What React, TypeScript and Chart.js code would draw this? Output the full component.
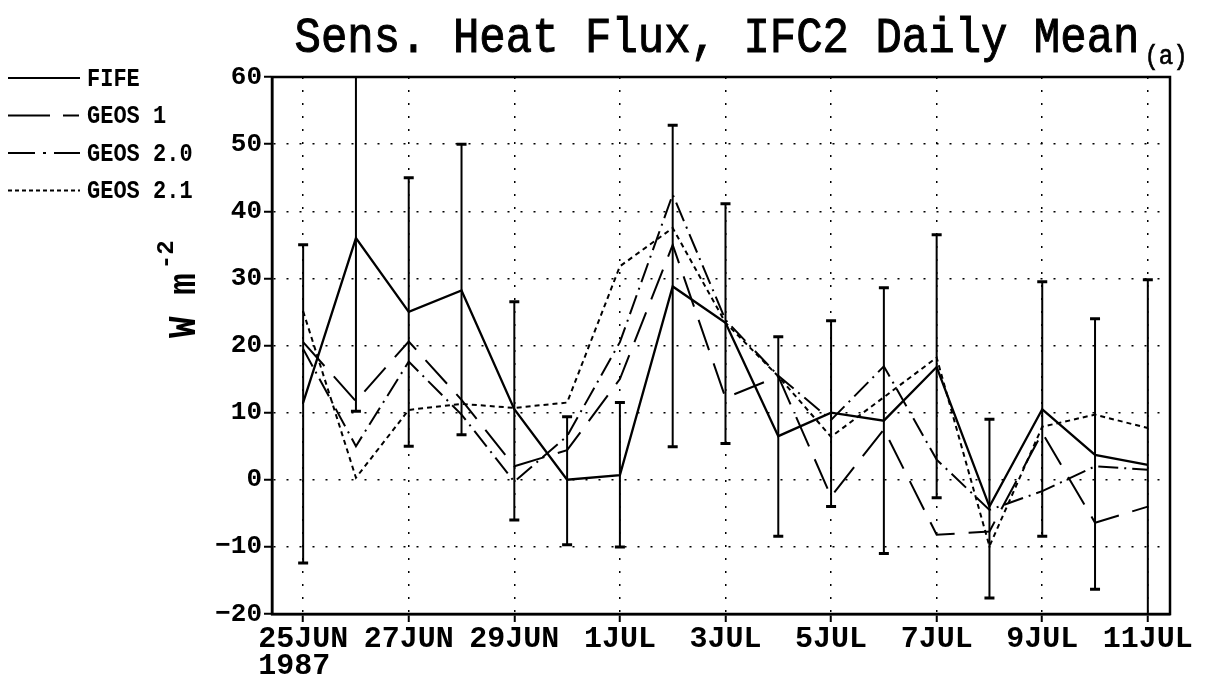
import { useEffect, useRef } from 'react';
import { Chart, registerables } from 'chart.js';

Chart.register(...registerables);

// ---- text ----
const titleText = 'Sens. Heat Flux, IFC2 Daily Mean';
const panelTag = '(a)';
const yTitleMain = 'W m';
const yTitleSup = '-2';
const yearLabel = '1987';
const seriesNames = ['FIFE', 'GEOS 1', 'GEOS 2.0', 'GEOS 2.1'];

// ---- categories ----
const dates = [
  '25JUN', '26JUN', '27JUN', '28JUN', '29JUN', '30JUN', '1JUL', '2JUL', '3JUL',
  '4JUL', '5JUL', '6JUL', '7JUL', '8JUL', '9JUL', '10JUL', '11JUL',
];
const tickDates = ['25JUN', '27JUN', '29JUN', '1JUL', '3JUL', '5JUL', '7JUL', '9JUL', '11JUL'];

// ---- series (W m-2) ----
const fife = [11.5, 36, 25, 28.2, 10.5, 0, 0.7, 28.8, 23.4, 6.5, 10, 8.8, 16.8, -4, 10.5, 3.7, 2.2];
const fifeHigh = [35, 62, 45, 50, 26.5, 9.4, 11.5, 52.8, 41.1, 21.3, 23.7, 28.6, 36.5, 9, 29.5, 24, 29.8];
const fifeLow = [-12.4, 10.2, 5, 6.7, -6, -9.7, -10, 4.9, 5.4, -8.4, -4, -11, -2.7, -17.6, -8.4, -16.3, -25.4];
const geos1 = [20.5, 11.7, 20.6, 11.9, 2.0, 4.4, 15, 35, 12.2, 15.4, -2.5, 7.5, -8.2, -7.7, 7, -6.4, -4];
const geos20 = [19.5, 5, 17.6, 9.7, -0.3, 6.5, 20.5, 42.5, 23.8, 15.5, 8.9, 16.9, 3, -4.5, -1.7, 2, 1.5];
const geos21 = [25.1, 0.3, 10.4, 11.3, 10.7, 11.5, 31.8, 37.5, 23.4, 15.4, 6.4, 12.3, 18.2, -9.9, 7.9, 9.7, 7.7];

// ---- axis ----
const yMin = -20;
const yMax = 60;
const yStep = 10;

const MONO = '"Liberation Mono", "DejaVu Sans Mono", monospace';

const dashes = {
  fife: [] as number[],
  geos1: [32, 14],
  geos20: [20, 6, 2, 6],
  geos21: [5, 4],
};
const legendDashes = [[], [42, 13, 16, 100], [27, 8, 3, 8, 40], [4, 3]];

const toPts = (arr: number[]) => arr.map((v, i) => ({ x: i, y: v }));

const decor = {
  id: 'decor',
  afterDatasetsDraw(chart: any) {
    const { ctx, chartArea: ca, scales } = chart;
    const x = scales.x;
    const y = scales.y;
    ctx.save();
    ctx.beginPath();
    ctx.rect(ca.left, ca.top, ca.right - ca.left, ca.bottom - ca.top);
    ctx.clip();
    ctx.strokeStyle = '#000';
    ctx.setLineDash([]);
    fife.forEach((_, i) => {
      const px = x.getPixelForValue(i);
      const top = y.getPixelForValue(fifeHigh[i]);
      const bot = y.getPixelForValue(fifeLow[i]);
      ctx.lineWidth = 2;
      ctx.beginPath();
      ctx.moveTo(px, top);
      ctx.lineTo(px, bot);
      ctx.stroke();
      ctx.lineWidth = 3;
      ctx.beginPath();
      ctx.moveTo(px - 5, top);
      ctx.lineTo(px + 5, top);
      ctx.moveTo(px - 5, bot);
      ctx.lineTo(px + 5, bot);
      ctx.stroke();
    });
    ctx.restore();
  },
  afterDraw(chart: any) {
    const { ctx, chartArea: ca } = chart;
    ctx.save();
    // frame
    ctx.strokeStyle = '#000';
    ctx.lineWidth = 2.5;
    ctx.setLineDash([]);
    ctx.strokeRect(ca.left, ca.top, ca.right - ca.left, ca.bottom - ca.top);

    ctx.fillStyle = '#000';
    ctx.strokeStyle = '#000';
    // title
    ctx.save();
    ctx.font = `44px ${MONO}`;
    ctx.textAlign = 'center';
    ctx.textBaseline = 'alphabetic';
    const cx = (ca.left + ca.right) / 2 - 4;
    ctx.translate(cx, 52);
    ctx.scale(1, 1.15);
    ctx.lineWidth = 0.9;
    ctx.fillText(titleText, 0, 0);
    ctx.strokeText(titleText, 0, 0);
    const tw = ctx.measureText(titleText).width;
    ctx.restore();
    ctx.save();
    ctx.font = `24px ${MONO}`;
    ctx.textAlign = 'left';
    ctx.textBaseline = 'alphabetic';
    ctx.translate(cx + tw / 2 + 5, 64);
    ctx.scale(1, 1.15);
    ctx.lineWidth = 0.6;
    ctx.fillText(panelTag, 0, 0);
    ctx.strokeText(panelTag, 0, 0);
    ctx.restore();

    // y title (rotated)
    ctx.save();
    ctx.translate(195, 338);
    ctx.rotate(-Math.PI / 2);
    ctx.font = `bold 36px ${MONO}`;
    ctx.textAlign = 'left';
    ctx.textBaseline = 'alphabetic';
    ctx.save();
    ctx.scale(1, 1.1);
    ctx.fillText(yTitleMain, 0, 0);
    ctx.restore();
    const mw = ctx.measureText(yTitleMain).width;
    ctx.font = `bold 24px ${MONO}`;
    ctx.fillText(yTitleSup, mw + 4, -22);
    ctx.restore();

    // legend
    seriesNames.forEach((name, i) => {
      const yy = 78 + i * 37.5;
      ctx.save();
      ctx.lineWidth = 2;
      ctx.strokeStyle = '#000';
      ctx.setLineDash(legendDashes[i]);
      ctx.beginPath();
      ctx.moveTo(8, yy);
      ctx.lineTo(80, yy);
      ctx.stroke();
      ctx.restore();
      ctx.save();
      ctx.font = `bold 22px ${MONO}`;
      ctx.textAlign = 'left';
      ctx.textBaseline = 'middle';
      ctx.translate(87, yy);
      ctx.scale(1, 1.15);
      ctx.fillText(name, 0, 1);
      ctx.restore();
    });
    ctx.restore();
  },
};

export default function App() {
  const ref = useRef<HTMLCanvasElement>(null);
  useEffect(() => {
    document.body.style.margin = '0';
    const canvas = ref.current!;
    const lineDs = (label: string, arr: number[], dash: number[], width: number) => ({
      label,
      data: toPts(arr),
      borderColor: '#000',
      backgroundColor: '#000',
      borderWidth: width,
      borderDash: dash,
      borderJoinStyle: 'miter' as const,
      pointRadius: 0,
      tension: 0,
      fill: false,
    });
    const chart = new Chart(canvas, {
      type: 'line',
      data: {
        datasets: [
          lineDs(seriesNames[0], fife, dashes.fife, 2.3),
          lineDs(seriesNames[1], geos1, dashes.geos1, 2),
          lineDs(seriesNames[2], geos20, dashes.geos20, 2),
          lineDs(seriesNames[3], geos21, dashes.geos21, 2),
        ],
      },
      options: {
        animation: false,
        responsive: false,
        devicePixelRatio: 1,
        layout: { padding: { top: 77, right: 41, bottom: 0, left: 0 } },
        plugins: {
          legend: { display: false },
          title: { display: false },
          tooltip: { enabled: false },
        },
        scales: {
          x: {
            type: 'linear',
            min: -0.59,
            max: 16.42,
            afterBuildTicks: (s: any) => {
              s.ticks = tickDates.map((d) => ({ value: dates.indexOf(d) }));
            },
            afterFit: (s: any) => {
              s.height = 76;
            },
            grid: {
              color: '#000',
              lineWidth: 1.5,
              tickLength: 8,
              tickColor: '#000',
              tickWidth: 2,
              tickBorderDash: [],
            },
            border: { display: true, color: '#000', width: 2.5, dash: [2, 11] },
            ticks: {
              color: '#000',
              font: { family: MONO, size: 30, weight: 'bold', lineHeight: 0.9 },
              padding: 4,
              maxRotation: 0,
              autoSkip: false,
              callback: (v: any) => {
                const d = dates[Number(v)];
                return Number(v) === 0 ? [d, yearLabel + ' '] : d;
              },
            },
          },
          y: {
            type: 'linear',
            min: yMin,
            max: yMax,
            afterFit: (s: any) => {
              s.width = 272;
            },
            grid: {
              color: '#000',
              lineWidth: 1.5,
              tickLength: 8,
              tickColor: '#000',
              tickWidth: 2,
              tickBorderDash: [],
            },
            border: { display: true, color: '#000', width: 2.5, dash: [2, 11] },
            ticks: {
              stepSize: yStep,
              color: '#000',
              font: { family: MONO, size: 26, weight: 'bold' },
              padding: 2,
              callback: (v: any) => (Number(v) < 0 ? '\u2212' + Math.abs(Number(v)) : String(v)),
            },
          },
        },
      },
      plugins: [decor],
    });
    return () => chart.destroy();
  }, []);
  return (
    <canvas ref={ref} width={1211} height={690} style={{ display: 'block', width: 1211, height: 690 }} />
  );
}
